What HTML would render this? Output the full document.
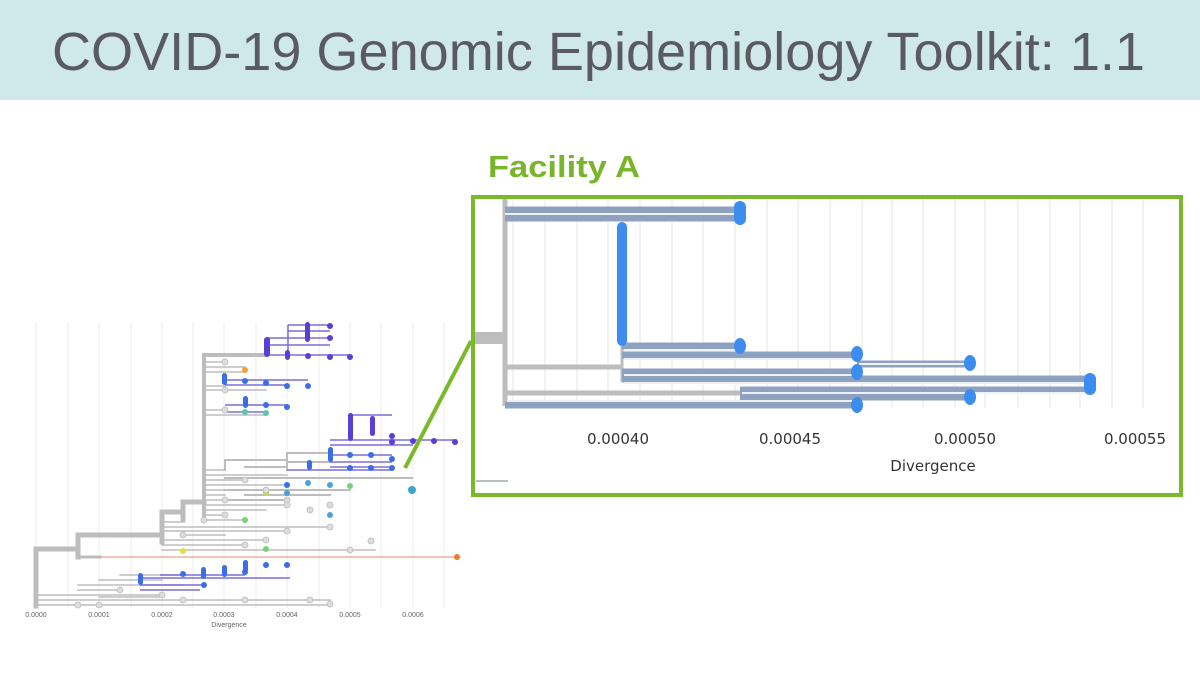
<!DOCTYPE html>
<html><head><meta charset="utf-8"><style>html,body{margin:0;padding:0;background:#fff}svg{display:block}</style></head>
<body>
<svg width="1200" height="676" viewBox="0 0 1200 676" xmlns="http://www.w3.org/2000/svg" font-family="Liberation Sans, sans-serif">
<rect x="0" y="0" width="1200" height="100" fill="#cfe8ea"/>
<text x="52" y="70" font-size="54" fill="#5a5a62" textLength="1093" lengthAdjust="spacingAndGlyphs">COVID-19 Genomic Epidemiology Toolkit: 1.1</text>
<text x="488" y="177" font-size="31" font-weight="bold" fill="#79b52a" textLength="152" lengthAdjust="spacingAndGlyphs">Facility A</text>

<!-- small tree gridlines -->
<g stroke="#ececec" stroke-width="1">
<line x1="36" y1="322" x2="36" y2="608"/><line x1="68" y1="322" x2="68" y2="608"/><line x1="99" y1="322" x2="99" y2="608"/><line x1="131" y1="322" x2="131" y2="608"/><line x1="162" y1="322" x2="162" y2="608"/><line x1="193" y1="322" x2="193" y2="608"/><line x1="224" y1="322" x2="224" y2="608"/><line x1="256" y1="322" x2="256" y2="608"/><line x1="287" y1="322" x2="287" y2="608"/><line x1="319" y1="322" x2="319" y2="608"/><line x1="350" y1="322" x2="350" y2="608"/><line x1="381" y1="322" x2="381" y2="608"/><line x1="413" y1="322" x2="413" y2="608"/><line x1="444" y1="322" x2="444" y2="608"/>
</g>
<g font-size="7" fill="#666" text-anchor="middle">
<text x="36" y="617">0.0000</text><text x="99" y="617">0.0001</text><text x="162" y="617">0.0002</text><text x="224" y="617">0.0003</text><text x="287" y="617">0.0004</text><text x="350" y="617">0.0005</text><text x="413" y="617">0.0006</text>
<text x="229" y="627">Divergence</text>
</g>
<!-- small tree backbone -->
<g stroke="#bdbdbd" fill="none" stroke-linecap="square">
<path d="M36 549V606M36 549H78M78 535V557M78 535H162M162 512V542M162 512H183M183 502V520M183 502H204" stroke-width="5"/>
<path d="M204 355V520M204 355H266" stroke-width="4"/>
<path d="M204 362H225M204 367H245M204 372H245M204 386H225M204 390H266M204 410H225M204 415H266M204 470H225M204 475H287M204 480H245M204 485H287M204 490H266M204 495H225M204 500H245M204 505H287M204 510H266M204 515H225M204 520H245M162 522H183M162 527H330M162 531H287M183 535H225M162 540H266M162 545H245M162 550H375" stroke-width="1.5"/>
<path d="M225 470V460M225 460H287M287 453V470M287 453H330M245 467H287M287 462H330M225 490H350M225 500H287M225 478H412M245 495H330" stroke-width="2"/>
<path d="M36 595H162M36 600H330M36 605H330M78 590H120M78 585H183M99 580H162M120 575H183M99 597H162" stroke-width="1.5"/>
<path d="M78 557H100" stroke-width="3"/>
</g>
<path d="M100 557H457" stroke="#e8a090" stroke-width="1.3"/>
<circle cx="457" cy="557" r="3" fill="#f07b23"/>
<!-- colored branches small -->
<g stroke="#7a6fd8" stroke-width="1.5">
<path d="M266 338H330M266 345H330M266 355H350M288 325H330M288 331H330M288 325V357"/>
<path d="M350 415H392M330 440H457M330 445H413M330 455H392M330 462H392M330 467H392M287 470H392"/>
<path d="M225 380H308M225 385H287M225 405H287M225 412H266"/>
<path d="M140 578H290M160 575H245M140 585H205M140 590H200"/>
</g>
<g fill="#5a3fd6">
<rect x="264" y="337" width="6" height="20" rx="3"/><rect x="305" y="322" width="5" height="20" rx="2.5"/><rect x="285" y="350" width="5" height="10" rx="2.5"/>
<circle cx="330" cy="326" r="3"/><circle cx="330" cy="338" r="3"/><circle cx="330" cy="357" r="3"/><circle cx="350" cy="357" r="3"/><circle cx="308" cy="356" r="3"/>
<rect x="348" y="413" width="5" height="28" rx="2.5"/><rect x="370" y="416" width="5" height="20" rx="2.5"/><circle cx="392" cy="436" r="3"/><circle cx="392" cy="442" r="3"/><circle cx="413" cy="441" r="3"/><circle cx="434" cy="441" r="3"/><circle cx="455" cy="442" r="3"/>
</g>
<g fill="#3a6ee8">
<rect x="328" y="447" width="5" height="15" rx="2.5"/><rect x="307" y="460" width="5" height="10" rx="2.5"/>
<circle cx="350" cy="455" r="3"/><circle cx="371" cy="455" r="3"/><circle cx="350" cy="468" r="3"/><circle cx="371" cy="468" r="3"/><circle cx="392" cy="468" r="3"/><circle cx="392" cy="459" r="3"/>
<rect x="222" y="373" width="5" height="12" rx="2.5"/><circle cx="245" cy="381" r="3"/><circle cx="266" cy="383" r="3"/><circle cx="287" cy="386" r="3"/><circle cx="308" cy="386" r="3"/>
<rect x="243" y="396" width="5" height="12" rx="2.5"/><circle cx="266" cy="405" r="3"/><circle cx="287" cy="407" r="3"/><circle cx="245" cy="412" r="3" fill="#5ec6b0"/><circle cx="266" cy="413" r="3" fill="#5ec6b0"/>
<circle cx="245" cy="370" r="3" fill="#f5a030"/><circle cx="287" cy="485" r="3"/><circle cx="308" cy="483" r="3" fill="#4aa0e0"/><circle cx="330" cy="485" r="3" fill="#4aa0e0"/><circle cx="350" cy="486" r="3" fill="#7bd07b"/><circle cx="412" cy="490" r="4" fill="#3aa7c7"/><circle cx="287" cy="493" r="3" fill="#4aa0e0"/><circle cx="266" cy="493" r="3" fill="#c8d84a"/><circle cx="330" cy="515" r="3" fill="#4aa0e0"/><circle cx="245" cy="520" r="3" fill="#7bd07b"/><circle cx="266" cy="549" r="3" fill="#7bd07b"/><circle cx="183" cy="551" r="3" fill="#e0e040"/>
<rect x="138" y="573" width="5" height="12" rx="2.5"/><rect x="201" y="567" width="5" height="12" rx="2.5"/><rect x="222" y="565" width="5" height="12" rx="2.5"/><rect x="243" y="560" width="5" height="12" rx="2.5"/><circle cx="266" cy="565" r="3"/><circle cx="287" cy="565" r="3"/><circle cx="183" cy="574" r="3"/><circle cx="245" cy="572" r="3"/><circle cx="204" cy="585" r="3"/>
</g>
<g fill="#ddd" stroke="#bbb" stroke-width="0.8">
<circle cx="225" cy="362" r="3"/><circle cx="225" cy="390" r="3"/><circle cx="225" cy="410" r="3"/><circle cx="245" cy="480" r="3"/><circle cx="266" cy="490" r="3"/><circle cx="287" cy="500" r="3"/><circle cx="287" cy="505" r="3"/><circle cx="310" cy="510" r="3"/><circle cx="330" cy="527" r="3"/><circle cx="330" cy="505" r="3"/><circle cx="287" cy="531" r="3"/><circle cx="371" cy="541" r="3"/><circle cx="350" cy="550" r="3"/><circle cx="225" cy="515" r="3"/><circle cx="245" cy="545" r="3"/><circle cx="204" cy="520" r="3"/><circle cx="183" cy="535" r="3"/><circle cx="162" cy="595" r="3"/><circle cx="120" cy="590" r="3"/><circle cx="183" cy="600" r="3"/><circle cx="245" cy="600" r="3"/><circle cx="310" cy="600" r="3"/><circle cx="330" cy="604" r="3"/><circle cx="78" cy="605" r="3"/><circle cx="99" cy="605" r="3"/><circle cx="225" cy="500" r="3"/><circle cx="266" cy="540" r="3"/>
</g>

<!-- connector -->
<line x1="405" y1="468" x2="471" y2="341" stroke="#7ab929" stroke-width="4"/>

<!-- inset -->
<rect x="474" y="198" width="706" height="296" fill="#fff"/>
<g stroke="#e6e6e6" stroke-width="1">
<line x1="513" y1="198" x2="513" y2="408"/><line x1="545" y1="198" x2="545" y2="408"/><line x1="577" y1="198" x2="577" y2="408"/><line x1="608" y1="198" x2="608" y2="408"/><line x1="640" y1="198" x2="640" y2="408"/><line x1="672" y1="198" x2="672" y2="408"/><line x1="703" y1="198" x2="703" y2="408"/><line x1="735" y1="198" x2="735" y2="408"/><line x1="767" y1="198" x2="767" y2="408"/><line x1="798" y1="198" x2="798" y2="408"/><line x1="830" y1="198" x2="830" y2="408"/><line x1="862" y1="198" x2="862" y2="408"/><line x1="892" y1="198" x2="892" y2="408"/><line x1="923" y1="198" x2="923" y2="408"/><line x1="955" y1="198" x2="955" y2="408"/><line x1="985" y1="198" x2="985" y2="408"/><line x1="1018" y1="198" x2="1018" y2="408"/><line x1="1050" y1="198" x2="1050" y2="408"/><line x1="1080" y1="198" x2="1080" y2="408"/><line x1="1112" y1="198" x2="1112" y2="408"/><line x1="1143" y1="198" x2="1143" y2="408"/>
</g>
<g stroke="#bdbdbd" fill="none">
<path d="M505 198V406" stroke-width="5"/>
<path d="M474 338H505" stroke-width="12"/>
<path d="M505 367H622M505 393H740" stroke-width="5"/>
<path d="M622 345V382" stroke-width="3"/>
<path d="M476 481H508" stroke-width="2"/>
</g>
<g fill="none" stroke="#8ea2bf" stroke-width="7">
<path d="M505 210H740M505 218H740M622 346H740M622 355H857M857 364H970M622 372H857M622 379H1090M740 390H1090M740 397H970M505 405H857"/>
</g>
<g fill="none" stroke="#eef1f6" stroke-width="2">
<path d="M505 214H738M624 350H738M624 359H855M859 364H968M624 375H855M624 383H1088M742 393H1088M507 401H855"/>
</g>
<g fill="#3d8cf0">
<rect x="734" y="201" width="12" height="24" rx="6"/>
<rect x="617" y="222" width="10" height="124" rx="5"/>
<ellipse cx="740" cy="346" rx="6" ry="8"/>
<ellipse cx="857" cy="354" rx="6" ry="8"/>
<ellipse cx="970" cy="363" rx="6" ry="8"/>
<ellipse cx="857" cy="372" rx="6" ry="8"/>
<rect x="1084" y="373" width="12" height="22" rx="6"/>
<ellipse cx="970" cy="397" rx="6" ry="8"/>
<ellipse cx="857" cy="405" rx="6" ry="8"/>
</g>
<g font-family="DejaVu Sans, sans-serif" font-size="15" fill="#333" text-anchor="middle">
<text x="618" y="444">0.00040</text><text x="790" y="444">0.00045</text><text x="965" y="444">0.00050</text><text x="1135" y="444">0.00055</text>
<text x="933" y="471" font-size="15">Divergence</text>
</g>
<rect x="473" y="197" width="708" height="298" fill="none" stroke="#7ab929" stroke-width="4"/>
</svg>
</body></html>
